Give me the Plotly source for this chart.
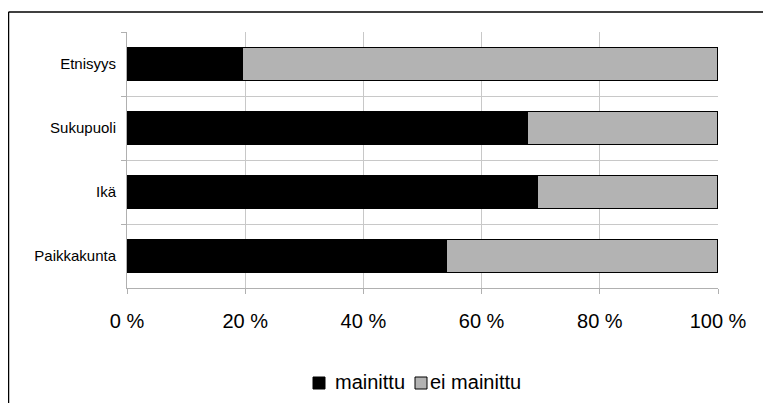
import plotly.graph_objects as go

categories = ["Etnisyys", "Sukupuoli", "Ikä", "Paikkakunta"]
mainittu = [19.5, 67.7, 69.4, 54.1]
ei_mainittu = [100 - v for v in mainittu]
x_ticks = [0, 20, 40, 60, 80, 100]
x_tick_labels = ["0 %", "20 %", "40 %", "60 %", "80 %", "100 %"]
series_names = ["mainittu", "ei mainittu"]
series_colors = ["#000000", "#b3b3b3"]

# page is rendered with an 8px body margin; work in figure pixel coords
OFF = 8
W, H = 771 - OFF, 403 - OFF
L, T = 127 - OFF, 32 - OFF
PR, PB = 718 - OFF, 288 - OFF
R, B = W - PR, H - PB
pw, ph = W - L - R, H - T - B

def fx(px):
    return (px - OFF - L) / pw

def fy(py):
    return (H - B - (py - OFF)) / ph

fig = go.Figure()
for name, vals, col in zip(series_names, [mainittu, ei_mainittu], series_colors):
    fig.add_trace(go.Bar(
        y=categories, x=vals, name=name, orientation="h",
        marker=dict(color=col, line=dict(color="#000000", width=1.5)),
        width=0.52, showlegend=False,
    ))

shapes = [
    dict(type="line", xref="paper", yref="paper",
         x0=fx(8.5), x1=fx(800), y0=fy(12), y1=fy(12),
         line=dict(color="#000000", width=1.5)),
    dict(type="line", xref="paper", yref="paper",
         x0=fx(8.5), x1=fx(8.5), y0=fy(12), y1=fy(420),
         line=dict(color="#000000", width=1.5)),
]
annotations = []
legend_sq_x = [313, 415]
legend_txt_x = [333, 428]
for i, (name, col) in enumerate(zip(series_names, series_colors)):
    shapes.append(dict(type="rect", xref="paper", yref="paper",
                       x0=fx(legend_sq_x[i]), x1=fx(legend_sq_x[i] + 12),
                       y0=fy(377), y1=fy(389),
                       fillcolor=col, line=dict(color="#000000", width=1)))
    annotations.append(dict(text=name, xref="paper", yref="paper",
                            x=fx(legend_txt_x[i]), y=fy(382),
                            xanchor="left", yanchor="middle", showarrow=False,
                            font=dict(size=20), xshift=0))

fig.update_layout(
    barmode="stack",
    width=W, height=H,
    margin=dict(l=L, r=R, t=T, b=B, pad=0),
    paper_bgcolor="white", plot_bgcolor="white",
    font=dict(family="Liberation Sans, Arial, sans-serif", color="#000000"),
    showlegend=False,
    xaxis=dict(
        range=[0, 100], tickvals=x_ticks, ticktext=x_tick_labels,
        showgrid=True, gridcolor="#c8c8c8", gridwidth=1,
        showline=True, linecolor="#b0b0b0", linewidth=1,
        ticks="outside", ticklen=5, tickcolor="#b0b0b0",
        tickfont=dict(size=20), ticklabelstandoff=10,
        zeroline=False, fixedrange=True,
    ),
    yaxis=dict(
        type="category", autorange="reversed", tickson="boundaries",
        showgrid=True, gridcolor="#c8c8c8", gridwidth=1,
        showline=True, linecolor="#b0b0b0", linewidth=1,
        ticks="outside", ticklen=5, tickcolor="#b0b0b0",
        tickfont=dict(size=15), ticklabelstandoff=7,
    ),
    shapes=shapes,
    annotations=annotations,
)

fig.write_html("out.html")
